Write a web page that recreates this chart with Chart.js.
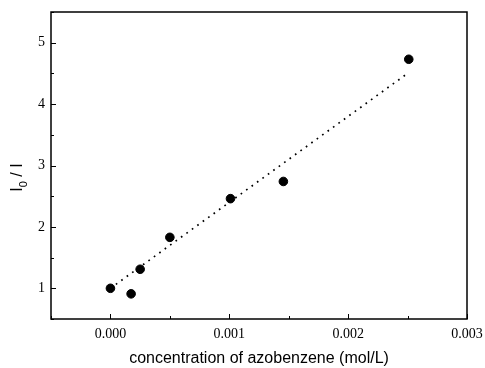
<!DOCTYPE html>
<html lang="en">
<head>
<meta charset="UTF-8"/>
<title>I0 / I vs concentration of azobenzene</title>
<script src="https://cdn.jsdelivr.net/npm/chart.js"></script>
<style>
    html, body { margin: 0; padding: 0; background: #fff; }
    .chart-box { width: 485px; height: 368px; position: relative; }
</style>
</head>
<body>
<div class="chart-box"><canvas id="quenchChart"></canvas></div>
<script>
    // measured points
    const concentration = [0.0000, 0.000174, 0.00025, 0.0005, 0.00101, 0.001455, 0.00251];
    const intensityRatio = [1.00, 0.91, 1.31, 1.83, 2.46, 2.74, 4.73];
    // dotted linear fit, end points
    const fitConc = [0.0, 0.0025];
    const fitRatio = [1.0, 4.5];
    // labelled ticks
    const xTickLabels = [0.000, 0.001, 0.002, 0.003];
    const yTickLabels = [1, 2, 3, 4, 5];

    const sansFont = '"Liberation Sans", Arial, sans-serif';
    const serifFont = '"Liberation Serif", serif';
    const isLabelled = (list, v) => list.some(t => Math.abs(t - v) < 1e-9);

    // box frame + inward ticks, like the original plot
    const framePlugin = {
        id: 'frame',
        afterDraw(chart) {
            const { ctx, chartArea: a, scales: { x, y } } = chart;
            ctx.save();
            ctx.strokeStyle = '#000';
            ctx.lineWidth = 1.5;
            ctx.strokeRect(a.left, a.top, a.right - a.left, a.bottom - a.top);
            ctx.lineWidth = 1;
            ctx.beginPath();
            x.ticks.forEach(t => {
                const px = Math.round(x.getPixelForValue(t.value)) + 0.5;
                const len = isLabelled(xTickLabels, t.value) ? 5 : 3;
                ctx.moveTo(px, a.bottom);
                ctx.lineTo(px, a.bottom - len);
            });
            y.ticks.forEach(t => {
                const py = Math.round(y.getPixelForValue(t.value)) + 0.5;
                const len = isLabelled(yTickLabels, t.value) ? 5 : 3;
                ctx.moveTo(a.left, py);
                ctx.lineTo(a.left + len, py);
            });
            ctx.stroke();
            ctx.restore();
        }
    };

    // y title "I0 / I" with a real subscript, Chart.js titles can't do that
    const yTitlePlugin = {
        id: 'yTitle',
        afterDraw(chart) {
            const { ctx, chartArea: a } = chart;
            const big = '16px ' + sansFont, small = '11px ' + sansFont;
            ctx.save();
            ctx.font = big;
            const w1 = ctx.measureText('I').width;
            const w3 = ctx.measureText(' / I').width;
            ctx.font = small;
            const w2 = ctx.measureText('0').width;
            const total = w1 + w2 + w3;
            ctx.translate(18, (a.top + a.bottom) / 2 + 12);
            ctx.rotate(-Math.PI / 2);
            ctx.fillStyle = '#000';
            ctx.textBaseline = 'middle';
            ctx.textAlign = 'left';
            let cx = -total / 2;
            ctx.font = big;
            ctx.fillText('I', cx, 0);
            cx += w1;
            ctx.font = small;
            ctx.fillText('0', cx, 6);
            cx += w2;
            ctx.font = big;
            ctx.fillText(' / I', cx, 0);
            ctx.restore();
        }
    };

    new Chart(document.getElementById('quenchChart'), {
        type: 'scatter',
        data: {
            datasets: [
                {
                    label: 'measured',
                    data: concentration.map((c, i) => ({ x: c, y: intensityRatio[i] })),
                    backgroundColor: '#000',
                    borderColor: '#000',
                    pointRadius: 4.3,
                    pointHoverRadius: 4.3
                },
                {
                    label: 'fit',
                    type: 'line',
                    data: fitConc.map((c, i) => ({ x: c, y: fitRatio[i] })),
                    borderColor: '#000',
                    borderWidth: 1.7,
                    borderDash: [1.7, 5],
                    pointRadius: 0,
                    fill: false
                }
            ]
        },
        options: {
            responsive: true,
            maintainAspectRatio: false,
            animation: false,
            layout: { padding: { top: 12, right: 18, left: 0, bottom: 0 } },
            plugins: {
                legend: { display: false },
                tooltip: { enabled: false }
            },
            scales: {
                x: {
                    type: 'linear',
                    min: -0.0005,
                    max: 0.003,
                    grid: { display: false, drawTicks: false },
                    border: { display: false },
                    ticks: {
                        stepSize: 0.0005,
                        autoSkip: false,
                        maxRotation: 0,
                        padding: 7,
                        color: '#000',
                        font: { family: serifFont, size: 14 },
                        callback: v => isLabelled(xTickLabels, v) ? v.toFixed(3) : ''
                    },
                    title: {
                        display: true,
                        text: 'concentration of azobenzene (mol/L)',
                        color: '#000',
                        font: { family: sansFont, size: 16 },
                        padding: { top: 4, bottom: 0 }
                    },
                    afterFit: s => { s.height = 49; s.paddingLeft = 0; s.paddingRight = 0; }
                },
                y: {
                    type: 'linear',
                    min: 0.5,
                    max: 5.5,
                    grid: { display: false, drawTicks: false },
                    border: { display: false },
                    ticks: {
                        stepSize: 0.5,
                        autoSkip: false,
                        padding: 6,
                        color: '#000',
                        font: { family: serifFont, size: 14 },
                        callback: v => isLabelled(yTickLabels, v) ? String(v) : ''
                    },
                    title: { display: false },
                    afterFit: s => { s.width = 51; s.paddingTop = 0; s.paddingBottom = 0; }
                }
            }
        },
        plugins: [framePlugin, yTitlePlugin]
    });
</script>
</body>
</html>
